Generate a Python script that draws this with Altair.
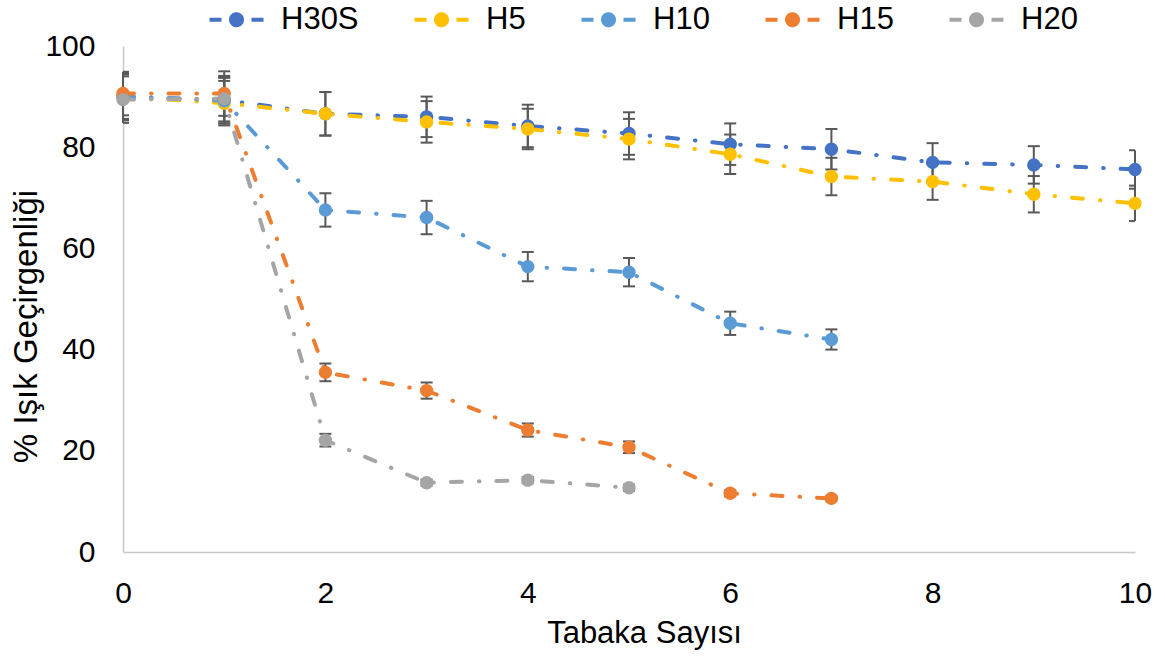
import altair as alt
import pandas as pd

# ---- data ----
layers_x = list(range(11))
series_names = ["H30S", "H5", "H10", "H15", "H20"]
series_colors = ["#4472C4", "#FFC000", "#5B9BD5", "#ED7D31", "#A5A5A5"]

h30s_vals = [90.0, 89.3, 86.6, 86.0, 84.2, 82.7, 80.6, 79.6, 77.0, 76.5, 75.6]
h30s_err = [4.7, 4.6, 4.3, 4.0, 4.2, 4.2, 4.1, 4.0, 3.8, 3.7, 3.8]

h5_vals = [90.0, 88.7, 86.6, 85.0, 83.6, 81.6, 78.6, 74.2, 73.2, 70.7, 68.9]
h5_err = [4.5, 4.4, 4.3, 4.1, 4.0, 4.0, 3.9, 3.7, 3.6, 3.6, 3.5]

h10_vals = [90.0, 89.2, 67.6, 66.1, 56.4, 55.3, 45.2, 42.0]
h10_err = [4.4, 4.5, 3.3, 3.3, 2.9, 2.8, 2.3, 2.0]

h15_vals = [90.6, 90.6, 35.5, 31.9, 24.1, 20.7, 11.6, 10.6]
h15_err = [4.3, 4.4, 1.75, 1.6, 1.3, 1.15, 0.6, 0.5]

h20_vals = [89.4, 89.6, 22.1, 13.7, 14.2, 12.7]
h20_err = [4.6, 4.5, 1.25, 0.6, 0.6, 0.6]

x_tick_values = [0, 2, 4, 6, 8, 10]
y_tick_values = [0, 20, 40, 60, 80, 100]

# ---- table built from the arrays ----
rows = []
for k, (name, vals, errs) in enumerate(zip(
        series_names,
        [h30s_vals, h5_vals, h10_vals, h15_vals, h20_vals],
        [h30s_err, h5_err, h10_err, h15_err, h20_err])):
    for i, (v, e) in enumerate(zip(vals, errs)):
        rows.append({"x": layers_x[i], "y": v, "lo": v - e, "hi": v + e,
                     "series": name, "k": k})
df = pd.DataFrame(rows)

FONT = "Liberation Sans"
color_scale = alt.Scale(domain=series_names, range=series_colors)

legend_symbol = ("M-2.7,0L-1.5,0M1.5,0L2.7,0"
                 "M-0.55,0A0.55,0.55,0,1,1,0.55,0A0.55,0.55,0,1,1,-0.55,0Z")

leg = alt.Legend(
    title=None, orient="none", direction="horizontal", columns=5,
    legendX=98, legendY=-42, padding=0,
    symbolType=legend_symbol, symbolSize=400, symbolStrokeWidth=4,
    symbolDash=[1, 0], symbolOpacity=1,
    labelFont=FONT, labelFontSize=31, labelColor="#000000",
    labelOffset=29, columnPadding=47,
)

x_axis = alt.Axis(values=x_tick_values, title="Tabaka Sayısı", grid=False,
                  ticks=False, labelFont=FONT, labelFontSize=30,
                  labelColor="#000000", labelPadding=26, labelFlush=False,
                  domainColor="#C8C8C8", domainWidth=1.5,
                  titleFont=FONT, titleFontSize=31, titleFontWeight="normal",
                  titleColor="#000000", titleX=521, titleY=90,
                  titleBaseline="alphabetic", titleAlign="center")
y_axis = alt.Axis(values=y_tick_values, title="% Işık Geçirgenliği", grid=False,
                  ticks=False, labelFont=FONT, labelFontSize=30,
                  labelColor="#000000", labelPadding=28, labelFlush=False,
                  domainColor="#C8C8C8", domainWidth=1.5,
                  titleFont=FONT, titleFontSize=33, titleFontWeight="normal",
                  titleColor="#000000", titleX=-97, titleY=280, titleAngle=270,
                  titleBaseline="middle", titleAlign="center")

x_scale = alt.Scale(domain=[0, 10], nice=False, zero=False)
y_scale = alt.Scale(domain=[0, 100], nice=False)

X = alt.X("x:Q", scale=x_scale, axis=x_axis)

base = alt.Chart(df)

err_rule = base.mark_rule(color="#595959", strokeWidth=2).encode(
    x=X, y=alt.Y("lo:Q", scale=y_scale, axis=y_axis), y2="hi:Q")
cap_lo = base.mark_tick(orient="horizontal", size=12, thickness=2,
                        color="#595959", opacity=1, clip=True).encode(
    x=X, y=alt.Y("lo:Q", scale=y_scale, axis=y_axis))
cap_hi = base.mark_tick(orient="horizontal", size=12, thickness=2,
                        color="#595959", opacity=1, clip=True).encode(
    x=X, y=alt.Y("hi:Q", scale=y_scale, axis=y_axis))

stroke_enc = alt.Stroke("series:N", scale=color_scale, legend=leg,
                        sort=series_names)
fill_enc = alt.Fill("series:N", scale=color_scale, legend=leg,
                    sort=series_names)

lines = base.mark_line(strokeWidth=4, strokeDash=[11, 17, 0.5, 17],
                       strokeCap="round", interpolate="linear").encode(
    x=X, y=alt.Y("y:Q", scale=y_scale, axis=y_axis),
    stroke=stroke_enc,
)
points = base.mark_point(filled=True, size=130, strokeWidth=2,
                         opacity=1).encode(
    x=X, y=alt.Y("y:Q", scale=y_scale, axis=y_axis),
    fill=fill_enc, stroke=stroke_enc,
    order=alt.Order("k:Q"),
)

chart = alt.layer(err_rule, cap_lo, cap_hi, lines, points).properties(
    width=1012, height=506,
    autosize=alt.AutoSizeParams(type="none"),
    padding={"left": 123, "top": 46, "right": 30, "bottom": 105},
    background="white",
).configure_view(stroke=None)

chart.save("out.html", embed_options={"renderer": "svg", "actions": False})
